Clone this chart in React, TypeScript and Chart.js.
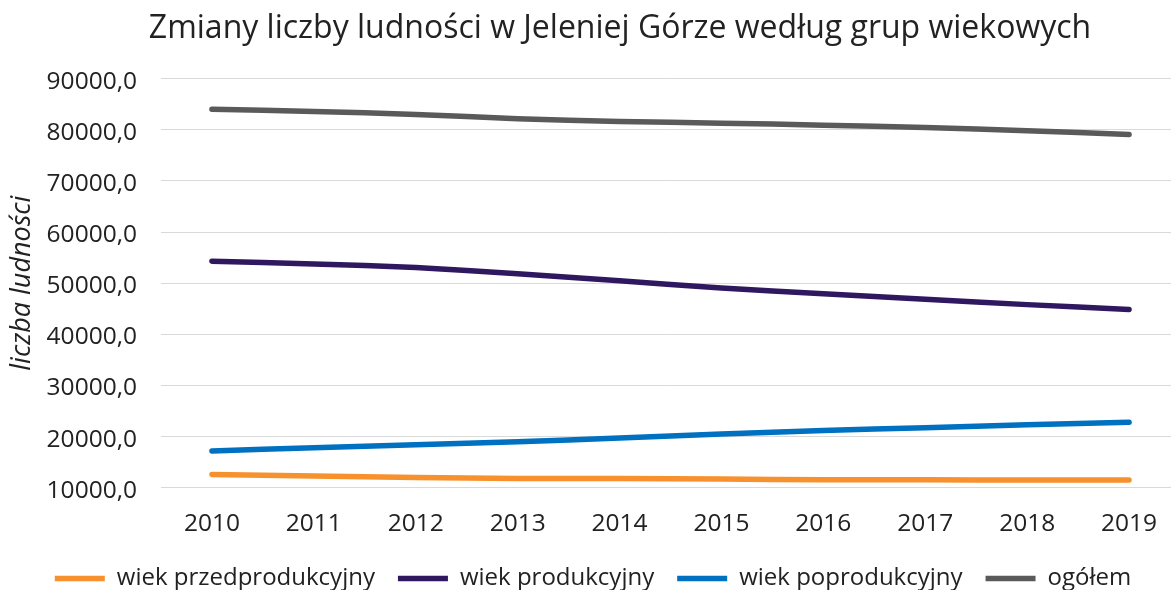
import React, { useEffect, useRef } from 'react';
import { Chart, registerables } from 'chart.js';

Chart.register(...registerables);

const years = ['2010', '2011', '2012', '2013', '2014', '2015', '2016', '2017', '2018', '2019'];
const przedprodukcyjny = [12600, 12300, 12000, 11800, 11800, 11700, 11550, 11550, 11500, 11500];
const produkcyjny = [54300, 53750, 53050, 51850, 50450, 49050, 47950, 46850, 45800, 44850];
const poprodukcyjny = [17200, 17800, 18400, 19000, 19700, 20500, 21200, 21700, 22300, 22800];
const ogolem = [84000, 83570, 82990, 82150, 81620, 81290, 80900, 80450, 79800, 79080];

const seriesNames = ['wiek przedprodukcyjny', 'wiek produkcyjny', 'wiek poprodukcyjny', 'ogółem'];
const seriesColors = ['#F7912D', '#301860', '#0070C0', '#5A5A5A'];

const FONT = "'Open Sans', 'Noto Sans', sans-serif";
const TEXT = '#222222';

export default function App() {
  const ref = useRef<HTMLCanvasElement>(null);

  useEffect(() => {
    if (!ref.current) return;
    const shiftPlugin = {
      id: 'shiftPlugin',
      afterLayout(chart: any) {
        const t = chart.titleBlock;
        if (t) {
          t.left += 30;
          t.right += 30;
        }
        const l = chart.legend;
        if (l) {
          l.top += 10.5;
          l.bottom += 10.5;
          l.left += 3;
          l.right += 3;
        }
      },
    };
    const data = [przedprodukcyjny, produkcyjny, poprodukcyjny, ogolem];
    const chart = new Chart(ref.current, {
      type: 'line',
      data: {
        labels: years,
        datasets: data.map((d, i) => ({
          label: seriesNames[i],
          data: d,
          borderColor: seriesColors[i],
          backgroundColor: seriesColors[i],
          borderWidth: 5.5,
          borderCapStyle: 'round' as const,
          borderJoinStyle: 'round' as const,
          pointRadius: 0,
          pointHoverRadius: 0,
          tension: 0.25,
          fill: false,
          pointStyle: 'line' as const,
        })),
      },
      plugins: [shiftPlugin],
      options: {
        animation: false,
        responsive: true,
        maintainAspectRatio: false,
        layout: { padding: 0 },
        plugins: {
          title: {
            display: true,
            text: 'Zmiany liczby ludności w Jeleniej Górze według grup wiekowych',
            color: TEXT,
            font: { family: FONT, size: 32, weight: 'normal' as const, lineHeight: 1.2 },
            padding: { top: 9.5, bottom: 30.7 },
          },
          legend: {
            display: true,
            position: 'bottom' as const,
            labels: {
              usePointStyle: true,
              pointStyleWidth: 50,
              boxHeight: 24,
              padding: 23,
              color: TEXT,
              font: { family: FONT, size: 24 },
            },
          },
          tooltip: { enabled: false },
        },
        scales: {
          x: {
            offset: true,
            grid: { display: false, drawTicks: false },
            border: { display: false },
            ticks: {
              color: TEXT,
              padding: 21.4,
              font: { family: FONT, size: 24.5 },
              maxRotation: 0,
            },
            afterFit: (scale: any) => {
              scale.height = 45.3;
            },
          },
          y: {
            min: 10000,
            max: 90000,
            grid: { color: '#D9D9D9', lineWidth: 1, drawTicks: false },
            border: { display: false },
            ticks: {
              stepSize: 10000,
              color: TEXT,
              padding: 24,
              labelOffset: 3,
              font: { family: FONT, size: 24.5 },
              callback: (v: any) => Number(v).toFixed(1).replace('.', ','),
            },
            title: {
              display: true,
              text: 'liczba ludności',
              color: TEXT,
              font: { family: FONT, size: 27, style: 'italic' as const, lineHeight: 1.2 },
              padding: { top: 5.8, bottom: 0 },
            },
            afterFit: (scale: any) => {
              scale.width = 161;
            },
          },
        },
      },
    });
    return () => chart.destroy();
  }, []);

  return (
    <div
      style={{
        position: 'absolute',
        left: 0,
        top: 0,
        width: 1171,
        height: 590,
        overflow: 'hidden',
        background: '#ffffff',
      }}
    >
      <div style={{ position: 'relative', width: 1180, height: 590 }}>
        <canvas ref={ref} />
      </div>
    </div>
  );
}
